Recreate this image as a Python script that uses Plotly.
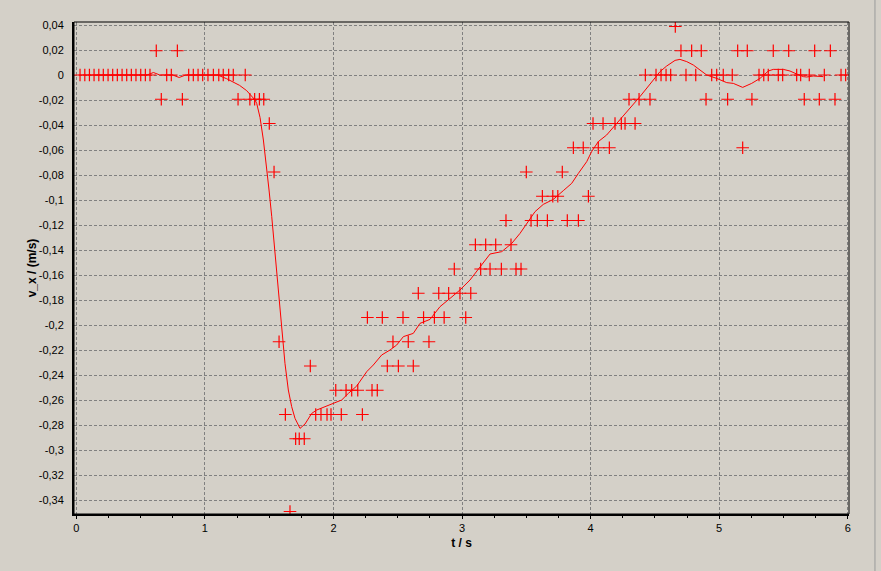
import plotly.graph_objects as go

# measured samples (t in s, v_x in m/s)
t_points = [0.029, 0.066, 0.102, 0.138, 0.175, 0.210, 0.247, 0.283, 0.319, 0.356,
            0.392, 0.428, 0.464, 0.501, 0.537, 0.573, 0.622, 0.661, 0.703, 0.739,
            0.786, 0.825, 0.874, 0.910, 0.947, 0.983, 1.024, 1.066, 1.108, 1.143,
            1.185, 1.221, 1.258, 1.314, 1.350, 1.387, 1.424, 1.458, 1.501, 1.538,
            1.577, 1.626, 1.662, 1.706, 1.734, 1.773, 1.820, 1.862, 1.903, 1.950,
            1.981, 2.018, 2.061, 2.098, 2.142, 2.189, 2.225, 2.264, 2.300, 2.341,
            2.380, 2.419, 2.463, 2.505, 2.541, 2.582, 2.621, 2.660, 2.701, 2.743,
            2.785, 2.819, 2.861, 2.896, 2.940, 2.984, 3.029, 3.068, 3.104, 3.145,
            3.184, 3.218, 3.262, 3.306, 3.342, 3.381, 3.420, 3.459, 3.500, 3.537,
            3.586, 3.625, 3.664, 3.706, 3.745, 3.780, 3.819, 3.866, 3.905, 3.943,
            3.983, 4.019, 4.060, 4.097, 4.146, 4.190, 4.239, 4.268, 4.299, 4.346,
            4.377, 4.426, 4.462, 4.509, 4.548, 4.587, 4.623, 4.659, 4.703, 4.742,
            4.786, 4.818, 4.861, 4.898, 4.942, 4.981, 5.032, 5.066, 5.102, 5.144,
            5.183, 5.219, 5.255, 5.310, 5.347, 5.382, 5.421, 5.460, 5.494, 5.541,
            5.603, 5.634, 5.662, 5.701, 5.743, 5.779, 5.818, 5.865, 5.901, 5.948,
            5.984]
v_points = [0, 0, 0, 0, 0, 0, 0, 0, 0, 0,
            0, 0, 0, 0, 0, 0, 0.0194, -0.0194, 0, 0,
            0.0194, -0.0194, 0, 0, 0, 0, 0, 0, 0, 0,
            0, 0, -0.0194, 0, -0.0194, -0.0194, -0.0194, -0.0194, -0.0388, -0.0776,
            -0.2134, -0.2716, -0.3492, -0.2910, -0.2910, -0.2910, -0.2328, -0.2716, -0.2716, -0.2716,
            -0.2716, -0.2522, -0.2716, -0.2522, -0.2522, -0.2522, -0.2716, -0.1940, -0.2522, -0.2522,
            -0.1940, -0.2328, -0.2134, -0.2328, -0.1940, -0.2134, -0.2328, -0.1746, -0.1940, -0.2134,
            -0.1940, -0.1746, -0.1940, -0.1746, -0.1552, -0.1746, -0.1940, -0.1746, -0.1358, -0.1552,
            -0.1358, -0.1552, -0.1358, -0.1552, -0.1164, -0.1358, -0.1552, -0.1552, -0.0776, -0.1164,
            -0.1164, -0.0970, -0.1164, -0.0970, -0.0970, -0.0776, -0.1164, -0.0582, -0.1164, -0.0582,
            -0.0970, -0.0388, -0.0582, -0.0388, -0.0582, -0.0388, -0.0388, -0.0388, -0.0194, -0.0388,
            -0.0194, 0, -0.0194, 0, 0, 0, 0, 0.0388, 0.0194, 0,
            0.0194, 0, 0.0194, -0.0194, 0, 0, 0, -0.0194, 0, 0.0194,
            -0.0582, 0.0194, -0.0194, 0, 0, 0, 0.0194, 0, 0, 0.0194,
            0, 0, -0.0194, 0, 0.0194, -0.0194, 0, 0.0194, -0.0194, 0,
            0]

# smoothed curve
t_smooth = [0.15, 0.55, 0.60, 0.65, 0.75, 0.80, 0.85, 1.10, 1.17, 1.22,
            1.27, 1.325, 1.364, 1.39, 1.403, 1.429, 1.455, 1.481, 1.499, 1.52,
            1.538, 1.559, 1.577, 1.597, 1.623, 1.649, 1.675, 1.701, 1.740, 1.779,
            1.831, 1.870, 1.947, 1.999, 2.064, 2.116, 2.181, 2.259, 2.31, 2.375,
            2.44, 2.492, 2.544, 2.621, 2.673, 2.751, 2.829, 2.907, 2.984, 3.062,
            3.14, 3.218, 3.309, 3.387, 3.451, 3.503, 3.568, 3.632, 3.71, 3.788,
            3.853, 3.905, 3.97, 4.008, 4.06, 4.125, 4.203, 4.281, 4.384, 4.488,
            4.54, 4.592, 4.657, 4.695, 4.748, 4.799, 4.851, 4.903, 4.981, 5.059,
            5.11, 5.183, 5.253, 5.318, 5.383, 5.421, 5.499, 5.551, 5.603, 5.655,
            5.681, 5.732, 5.81]
v_smooth = [0, 0, 0.002, 0.0, 0, -0.002, 0, 0, -0.003, -0.0056,
            -0.0083, -0.0125, -0.0173, -0.02, -0.0227, -0.034, -0.052, -0.0733, -0.092, -0.1133,
            -0.1347, -0.1533, -0.1773, -0.204, -0.2307, -0.252, -0.2653, -0.2747, -0.2827, -0.2792,
            -0.2707, -0.268, -0.2648, -0.2632, -0.26, -0.2547, -0.2488, -0.2373, -0.232, -0.224,
            -0.22, -0.216, -0.2093, -0.2067, -0.1987, -0.1955, -0.1853, -0.1787, -0.172, -0.164,
            -0.1533, -0.1432, -0.1413, -0.1347, -0.1267, -0.1187, -0.1093, -0.1035, -0.0995, -0.0925,
            -0.0867, -0.0787, -0.0693, -0.0613, -0.0533, -0.048, -0.0387, -0.030, -0.0173, -0.004,
            0.0027, 0.0072, 0.0117, 0.0125, 0.0107, 0.008, 0.004, 0.0, -0.0027, -0.0061,
            -0.0067, -0.0099, -0.0067, -0.0027, 0.0032, 0.0045, 0.0045, 0.0032, 0.0008, -0.0013,
            -0.0016, -0.0008, -0.0013]

x_tickvals = [0, 1, 2, 3, 4, 5, 6]
x_ticktext = ["0", "1", "2", "3", "4", "5", "6"]
y_tickvals = [0.04, 0.02, 0, -0.02, -0.04, -0.06, -0.08, -0.1, -0.12, -0.14,
              -0.16, -0.18, -0.2, -0.22, -0.24, -0.26, -0.28, -0.3, -0.32, -0.34]
y_ticktext = ["0,04", "0,02", "0", "-0,02", "-0,04", "-0,06", "-0,08", "-0,1", "-0,12", "-0,14",
              "-0,16", "-0,18", "-0,2", "-0,22", "-0,24", "-0,26", "-0,28", "-0,3", "-0,32", "-0,34"]

BG = "#D4D0C8"
FONT = "Liberation Sans"

fig = go.Figure()
fig.add_trace(go.Scatter(x=t_smooth, y=v_smooth, mode="lines",
                         line=dict(color="#FF0000", width=1), hoverinfo="skip",
                         showlegend=False))
fig.add_trace(go.Scatter(x=t_points, y=v_points, mode="markers",
                         marker=dict(symbol="cross-thin", size=9, color="#FF0000",
                                     line=dict(color="#FF0000", width=1.2)),
                         showlegend=False))

grid = dict(showgrid=True, gridcolor="#808080", gridwidth=1, griddash="3px,2px")

fig.update_layout(
    width=881, height=571,
    paper_bgcolor=BG, plot_bgcolor=BG,
    margin=dict(l=74, r=32, t=22, b=57),
    font=dict(family=FONT, size=11, color="#000000"),
    xaxis=dict(range=[-0.018, 6.01], tickvals=x_tickvals, ticktext=x_ticktext,
               ticks="outside", ticklen=3, tickcolor="#000000", tickwidth=1,
               minor=dict(dtick=0.25, tick0=0, ticks="outside", ticklen=2,
                          tickcolor="#000000", showgrid=False),
               showline=True, linecolor="#000000", linewidth=2, zeroline=False,
               title=dict(text="<b>t / s</b>", font=dict(size=12, family=FONT), standoff=5),
               **grid),
    yaxis=dict(range=[-0.3512, 0.0424], tickvals=y_tickvals, ticktext=y_ticktext,
               ticks="", ticklabelstandoff=6,
               showline=True, linecolor="#000000", linewidth=2, zeroline=False,
               title=dict(text="<b>v_x / (m/s)</b>", font=dict(size=12, family=FONT), standoff=0),
               **grid),
    shapes=[
        dict(type="rect", xref="paper", yref="paper", x0=0, y0=0, x1=1, y1=1,
             line=dict(color="#000000", width=1), layer="above"),
        dict(type="line", xref="paper", yref="paper", x0=1.0335, x1=1.0335, y0=-0.12, y1=1.05,
             line=dict(color="#9A9A9A", width=1)),
    ],
)

fig.write_html("out.html", config={"displayModeBar": False},
               post_script="document.body.style.margin='0';document.body.style.background='#D4D0C8';")
